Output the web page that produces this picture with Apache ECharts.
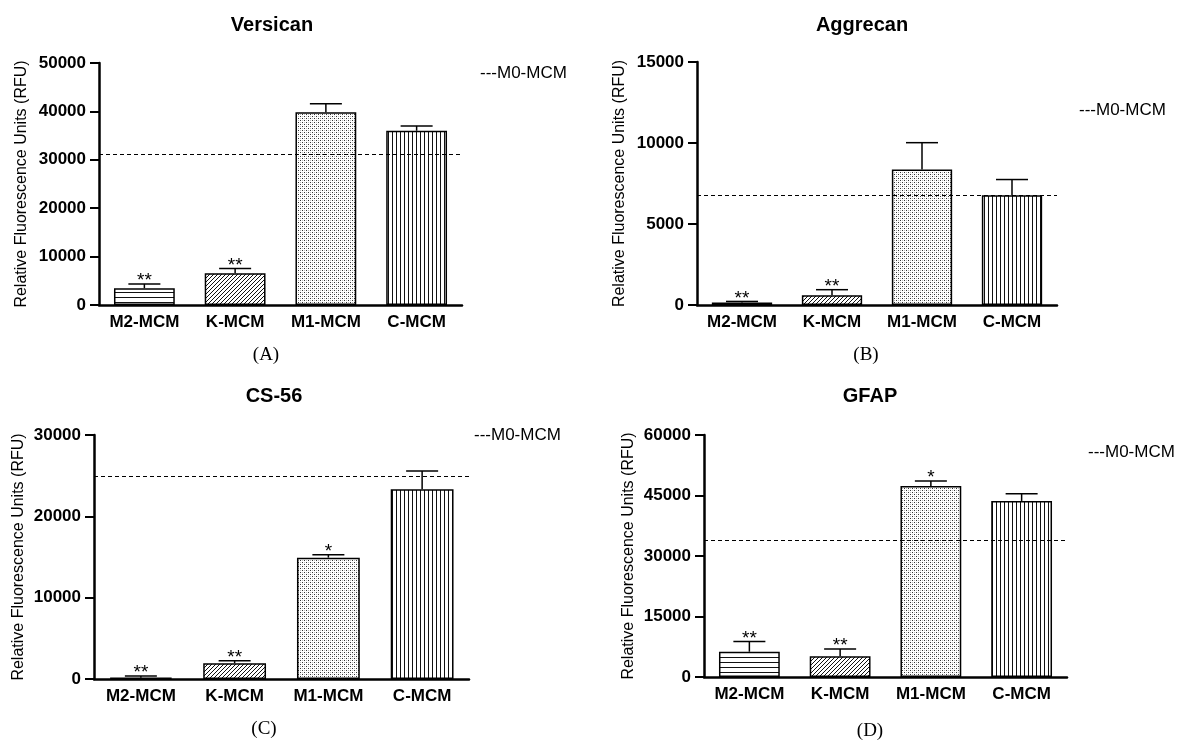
<!DOCTYPE html>
<html>
<head>
<meta charset="utf-8">
<script src="https://cdn.jsdelivr.net/npm/echarts@6/dist/echarts.min.js"></script>
<style>html,body{margin:0;padding:0;background:#fff}#c{width:1181px;height:740px}</style>
</head>
<body>
<div id="c"></div>
<script>
// ---------------- data ----------------
const categories = ['M2-MCM', 'K-MCM', 'M1-MCM', 'C-MCM'];

const versicanMean = [3470, 6580, 39800, 36000];
const versicanErr = [890, 960, 1780, 1000];
const versicanStars = ['**', '**', '', ''];
const versicanM0 = 31200;
const versicanTicks = [0, 50000, 10000];

const aggrecanMean = [150, 600, 8360, 6780];
const aggrecanErr = [70, 345, 1660, 965];
const aggrecanStars = ['**', '**', '', ''];
const aggrecanM0 = 6780;
const aggrecanTicks = [0, 15000, 5000];

const cs56Mean = [160, 1930, 14920, 23320];
const cs56Err = [210, 320, 370, 2260];
const cs56Stars = ['**', '**', '*', ''];
const cs56M0 = 24870;
const cs56Ticks = [0, 30000, 10000];

const gfapMean = [6270, 5120, 47370, 43650];
const gfapErr = [2550, 1810, 1230, 1810];
const gfapStars = ['**', '**', '*', ''];
const gfapM0 = 34000;
const gfapTicks = [0, 60000, 15000];

const titles = ['Versican', 'Aggrecan', 'CS-56', 'GFAP'];
const panelLabels = ['(A)', '(B)', '(C)', '(D)'];
const legendText = '---M0-MCM';
const yName = 'Relative Fluorescence Units (RFU)';

// ---------------- patterns ----------------
function tile(w, h, draw) {
  const c = document.createElement('canvas');
  c.width = w; c.height = h;
  const ctx = c.getContext('2d');
  ctx.fillStyle = '#fff'; ctx.fillRect(0, 0, w, h);
  ctx.strokeStyle = '#000'; ctx.fillStyle = '#000';
  draw(ctx);
  return { image: c, repeat: 'repeat' };
}
const patHoriz = tile(8, 5, ctx => { ctx.fillStyle = '#111'; ctx.fillRect(0, 2, 8, 1); });
const patDiag = tile(4, 4, ctx => {
  ctx.lineWidth = 1; ctx.strokeStyle = '#111';
  for (const k of [-4, 0, 4]) { ctx.beginPath(); ctx.moveTo(k, 4); ctx.lineTo(k + 4, 0); ctx.stroke(); }
});
const patDots = tile(4, 4, ctx => {
  ctx.fillStyle = '#333';
  ctx.fillRect(0, 0, 1, 1); ctx.fillRect(2, 2, 1, 1);
  ctx.fillStyle = '#bbb';
  ctx.fillRect(2, 0, 1, 1); ctx.fillRect(0, 2, 1, 1);
});
const patVert = tile(4, 8, ctx => { ctx.fillStyle = '#111'; ctx.fillRect(0, 0, 1, 8); });
const patterns = [patHoriz, patDiag, patDots, patVert];

// ---------------- layout ----------------
const grids = [
  { left: 99, top: 63, width: 363, height: 242 },
  { left: 697, top: 62, width: 360, height: 243 },
  { left: 94, top: 435, width: 375, height: 244 },
  { left: 704, top: 435, width: 363, height: 242 }
];
const nameGaps = [69, 69, 67, 67];
const titlePos = [[272, 25], [862, 25], [274, 396], [870, 396]];
const panelPos = [[266, 355], [866, 355], [264, 729], [870, 731]];
const legendPos = [[480, 73], [1079, 110], [474, 435], [1088, 452]];

const panels = [
  { mean: versicanMean, err: versicanErr, stars: versicanStars, m0: versicanM0, ticks: versicanTicks },
  { mean: aggrecanMean, err: aggrecanErr, stars: aggrecanStars, m0: aggrecanM0, ticks: aggrecanTicks },
  { mean: cs56Mean, err: cs56Err, stars: cs56Stars, m0: cs56M0, ticks: cs56Ticks },
  { mean: gfapMean, err: gfapErr, stars: gfapStars, m0: gfapM0, ticks: gfapTicks }
];

const SANS = 'Liberation Sans, Arial, sans-serif';
const SERIF = 'Liberation Serif, Times New Roman, serif';

const option = {
  animation: false,
  backgroundColor: '#fff',
  grid: grids.map(g => Object.assign({ containLabel: false }, g)),
  xAxis: panels.map((p, k) => ({
    type: 'category',
    gridIndex: k,
    data: categories,
    boundaryGap: true,
    axisLine: { lineStyle: { color: '#000', width: 2.5 } },
    axisTick: { alignWithLabel: true, length: 5, lineStyle: { color: '#000', width: 2 } },
    axisLabel: { color: '#000', fontFamily: SANS, fontWeight: 'bold', fontSize: 17, margin: 9, interval: 0 },
    splitLine: { show: false }
  })),
  yAxis: panels.map((p, k) => ({
    type: 'value',
    gridIndex: k,
    min: p.ticks[0], max: p.ticks[1], interval: p.ticks[2],
    name: yName,
    nameLocation: 'middle',
    nameRotate: 90,
    nameGap: nameGaps[k],
    nameTextStyle: { color: '#000', fontFamily: SANS, fontSize: 16 },
    axisLine: { show: true, lineStyle: { color: '#000', width: 2.5 } },
    axisTick: { show: true, length: 9, lineStyle: { color: '#000', width: 2 } },
    axisLabel: {
      color: '#000', fontFamily: SANS, fontWeight: 'bold', fontSize: 17, margin: 13,
      formatter: v => String(v)
    },
    splitLine: { show: false }
  })),
  series: [],
  graphic: []
};

panels.forEach((p, k) => {
  option.series.push({
    type: 'bar',
    xAxisIndex: k, yAxisIndex: k,
    barWidth: '67%',
    data: p.mean.map((v, i) => ({
      value: v,
      itemStyle: { color: patterns[i], borderColor: '#000', borderWidth: 1.5 }
    })),
    markLine: {
      silent: true,
      symbol: 'none',
      label: { show: false },
      lineStyle: { color: '#000', type: [4, 3], width: 1 },
      data: [{ yAxis: p.m0 }]
    },
    z: 2
  });
  option.series.push({
    type: 'custom',
    xAxisIndex: k, yAxisIndex: k,
    data: p.mean.map((v, i) => [i, v, p.err[i]]),
    z: 5,
    renderItem: function (params, api) {
      const i = api.value(0), m = api.value(1), e = api.value(2);
      const p0 = api.coord([i, m]);
      const p1 = api.coord([i, m + e]);
      const half = 16;
      const star = p.stars[params.dataIndex];
      const children = [
        { type: 'line', shape: { x1: p0[0], y1: p0[1], x2: p1[0], y2: p1[1] }, style: { stroke: '#000', lineWidth: 1.5 } },
        { type: 'line', shape: { x1: p1[0] - half, y1: p1[1], x2: p1[0] + half, y2: p1[1] }, style: { stroke: '#000', lineWidth: 1.5 } }
      ];
      if (star) {
        children.push({
          type: 'text',
          x: p1[0], y: p1[1] - 3,
          style: { text: star, fill: '#000', font: '19px ' + SANS, textAlign: 'center', textVerticalAlign: 'middle' }
        });
      }
      return { type: 'group', children: children };
    }
  });
  option.graphic.push({
    type: 'text', x: titlePos[k][0], y: titlePos[k][1],
    style: { text: titles[k], fill: '#000', font: 'bold 20px ' + SANS, textAlign: 'center', textVerticalAlign: 'middle' }
  });
  option.graphic.push({
    type: 'text', x: panelPos[k][0], y: panelPos[k][1],
    style: { text: panelLabels[k], fill: '#000', font: '19px ' + SERIF, textAlign: 'center', textVerticalAlign: 'middle' }
  });
  option.graphic.push({
    type: 'text', x: legendPos[k][0], y: legendPos[k][1],
    style: { text: legendText, fill: '#000', font: '17px ' + SANS, textAlign: 'left', textVerticalAlign: 'middle' }
  });
});

const chart = echarts.init(document.getElementById('c'), null, { renderer: 'canvas' });
chart.setOption(option);
</script>
</body>
</html>
